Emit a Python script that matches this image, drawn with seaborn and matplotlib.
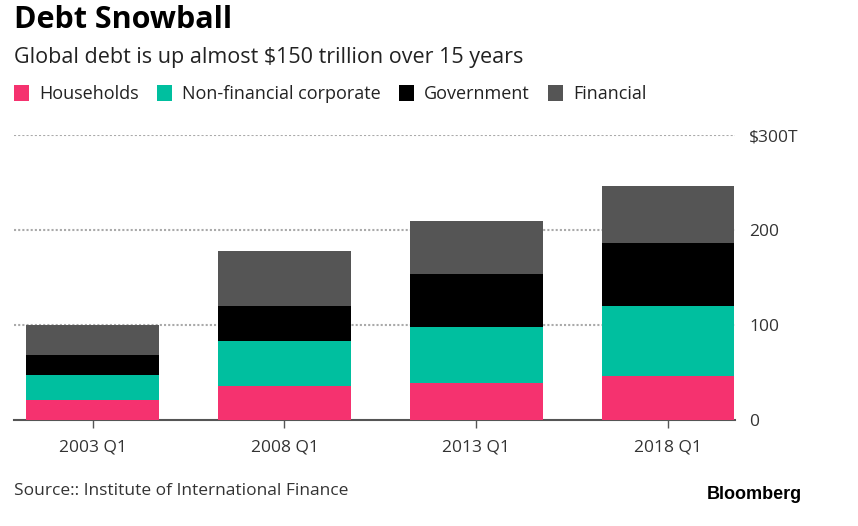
import numpy as np
import pandas as pd
import seaborn as sns
from matplotlib import pyplot as plt
from matplotlib.patches import Patch

# values, $ trillion
quarters = ["2003 Q1", "2008 Q1", "2013 Q1", "2018 Q1"]
households = [21, 36, 39, 46]
non_financial = [26, 47, 59, 74]
government = [22, 37, 56, 66]
financial = [31, 58, 56, 61]

series = ["Households", "Non-financial corporate", "Government", "Financial"]
colors = ["#f5326f", "#00bf9f", "#000000", "#555555"]
ytick_vals = [0, 100, 200, 300]
ytick_labels = ["0", "100", "200", "$300T"]

sns.set_theme(style="white")
plt.rcParams["font.family"] = ["Open Sans", "DejaVu Sans"]

df = pd.DataFrame({
    "quarter": quarters,
    "Households": households,
    "Non-financial corporate": non_financial,
    "Government": government,
    "Financial": financial,
})
cum = df[series].cumsum(axis=1)

fig = plt.figure(figsize=(8.58, 5.26), dpi=100)
ax = fig.add_axes([0.0163, 0.2015, 0.8407, 0.5415])

# draw stacked bars from the top layer down so each covers the one above
for name, col in reversed(list(zip(series, colors))):
    sns.barplot(x=df["quarter"], y=cum[name], color=col, width=0.69,
                saturation=1, ax=ax, zorder=3, edgecolor="none", linewidth=0)

ax.set_ylim(0, 300)
ax.set_xlim(-0.41, 3.35)
ax.yaxis.tick_right()
ax.set_yticks(ytick_vals)
ax.set_yticklabels(ytick_labels)
for y in ytick_vals[1:]:
    ax.axhline(y, color="#aaaaaa", lw=1.5, ls=(0, (1, 1)), zorder=1)
for s in ["top", "left", "right"]:
    ax.spines[s].set_visible(False)
ax.spines["bottom"].set_color("#555555")
ax.spines["bottom"].set_linewidth(1.5)
ax.set_xlabel("")
ax.set_ylabel("")
ax.tick_params(axis="x", length=6, width=1, color="#555555", direction="out",
               labelsize=12.5, labelcolor="#333333", bottom=True, pad=8)
ax.tick_params(axis="y", length=0, labelsize=12.5, labelcolor="#333333", pad=10)
ax.grid(False)

fig.text(0.016, 0.99, "Debt Snowball", fontsize=22, fontweight="bold",
         va="top", color="black")
fig.text(0.016, 0.91, "Global debt is up almost $150 trillion over 15 years",
         fontsize=15.5, va="top", color="#222222")

handles = [Patch(facecolor=c, edgecolor="none") for c in colors]
fig.legend(handles, series, loc="upper left", bbox_to_anchor=(0.016, 0.838),
           ncol=4, frameon=False, fontsize=13, handlelength=0.85,
           handleheight=1.0, handletextpad=0.55, columnspacing=1.0,
           borderaxespad=0, borderpad=0, labelcolor="#222222")

fig.text(0.016, 0.067, "Source:: Institute of International Finance",
         fontsize=12.5, color="#333333", va="center")
fig.text(0.935, 0.06, "Bloomberg", fontsize=13, fontweight="bold",
         color="black", va="center", ha="right", family=["Liberation Sans", "DejaVu Sans"])

fig.savefig("out.png", dpi=100)
